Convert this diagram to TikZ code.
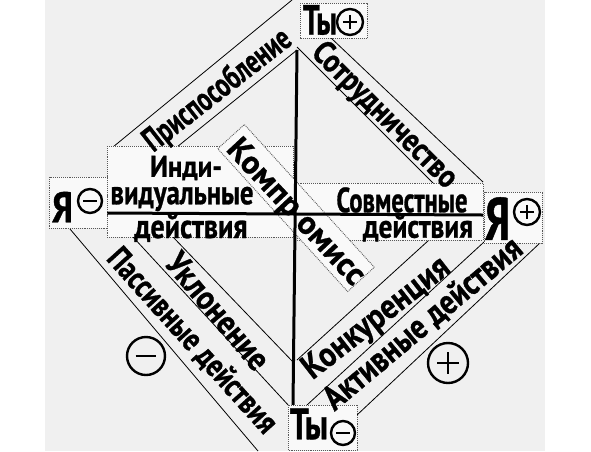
\documentclass[tikz,border=0pt]{standalone}
\usepackage{fontspec}
\setmainfont{PT Sans}
\definecolor{bgc}{gray}{0.94}
\definecolor{boxc}{gray}{0.975}
\newcommand\fitbox[3]{{\fontsize{#2pt}{#2pt}\selectfont
  \setbox0=\hbox{#3}%
  \pgfmathsetmacro\fitratio{#1/\the\wd0}%
  \addfontfeatures{FakeStretch=\fitratio,FakeBold=0.8}#3}}
\tikzset{
  band/.style={draw=black, line width=0.8pt},
  labelbox/.style={draw=black!65, densely dotted, line width=0.9pt, fill=boxc},
  axisline/.style={line width=3pt, draw=black},
  txt/.style={inner sep=0pt, font=\bfseries},
  signline/.style={line width=2.4pt, draw=black},
  minuspic/.pic={\draw[signline] (0,0) circle (#1); \draw[signline] (-0.55*#1,0) -- (0.55*#1,0);},
  pluspic/.pic={\draw[signline] (0,0) circle (#1); \draw[signline] (-0.55*#1,0) -- (0.55*#1,0) (0,-0.55*#1) -- (0,0.55*#1);}
}
\begin{document}
\begin{tikzpicture}[x=1pt,y=-1pt]
\useasboundingbox (0,0) rectangle (591,451);
\fill[bgc] (45,0) rectangle (545,451);
% bands
\draw[band] (113,147) -- (292,0);
\draw[band] (177,147) -- (297,50);
\draw[band] (330,37) -- (483,182);
\draw[band] (297,47) -- (433,183);
\draw[band] (70,229) -- (258,451);
\draw[band] (133,237) -- (290,407);
\draw[band] (173,237) -- (294,363);
\draw[band] (297,360) -- (429,240);
\draw[band] (307,405) -- (484,242);
\draw[band] (357,415) -- (541,242);
% central boxes
\draw[labelbox] (107,146) rectangle (293,237);
\draw[labelbox] (297,183) rectangle (483,240);
\node[labelbox, rotate=-47.7, minimum width=193, minimum height=36, inner sep=0pt] (kompbox) at (296,208) {};
% axes
\coordinate (vtop) at (297,50);
\coordinate (vbot) at (293,405);
\coordinate (hleft) at (107,213);
\coordinate (hright) at (483,215);
\draw[axisline] (vtop) -- (vbot);
\draw[axisline] (hleft) -- (hright);
% pole boxes
\draw[labelbox] (49,177) rectangle (107,228);
\draw[labelbox] (484,192) rectangle (542,243);
\draw[labelbox] (300,3) rectangle (367,38);
\draw[labelbox] (288,405) rectangle (357,450);
% texts
\node[txt, rotate=38] (prisp) at (218,91) {\fitbox{178}{34}{Приспособление}};
\node[txt, rotate=-45] (sotr) at (384,116) {\fitbox{192}{33}{Сотрудничество}};
\node[txt, rotate=-47] (komp) at (295,213) {\fitbox{187}{33}{Компр\kern8pt омисс}};
\node[txt, rotate=-50] (uklon) at (218,311) {\fitbox{142}{34}{Уклонение}};
\node[txt, rotate=-48] (pass) at (192,341) {\fitbox{237}{33}{Пассивные действия}};
\node[txt, rotate=38] (konk) at (377,319) {\fitbox{177}{35}{Конкуренция}};
\node[txt, rotate=40] (aktiv) at (423,324) {\fitbox{248}{35}{Активные действия}};
\node[txt] (indi1) at (186,168) {\fitbox{72}{30}{Инди-}};
\node[txt] (indi2) at (182,199) {\fitbox{143}{34}{видуальные}};
\node[txt] (indi3) at (191,228) {\fitbox{113}{34}{действия}};
\node[txt] (sovm1) at (402,200) {\fitbox{131}{35}{Совместные}};
\node[txt] (sovm2) at (418,228) {\fitbox{110}{33}{действия}};
\node[txt] (ya1) at (62.5,207) {\fitbox{21}{43}{Я}};
\node[txt] (ya2) at (497.5,218.5) {\fitbox{25}{60}{Я}};
\node[txt] (ty1) at (320,20) {\fitbox{34}{42}{Ты}};
\node[txt] (ty2) at (309,424) {\fitbox{38}{44}{Ты}};
% signs
\pic (s1) at (90,201) {minuspic=12};
\pic (s2) at (527,212) {pluspic=13};
\pic (s3) at (350,22) {pluspic=13};
\pic (s4) at (343,433) {minuspic=12};
\pic (s5) at (146,356) {minuspic=19};
\pic (s6) at (448,363) {pluspic=20};
\end{tikzpicture}
\end{document}
